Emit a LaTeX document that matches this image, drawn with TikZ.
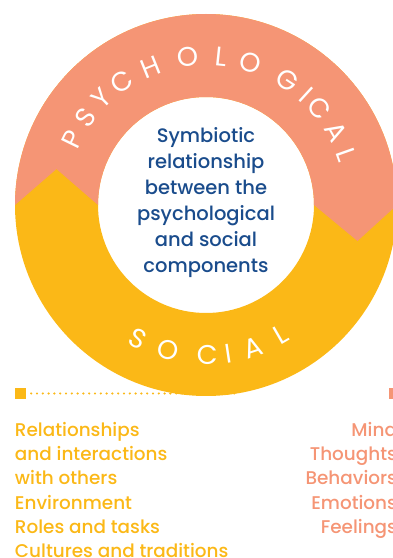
\documentclass[tikz,border=0pt]{standalone}
\usepackage{fontspec}
\setmainfont{Poppins}
\newfontfamily\medfont{Poppins Medium}
\usetikzlibrary{positioning}
\definecolor{psycho}{HTML}{F59575}
\definecolor{social}{HTML}{FBB817}
\definecolor{deepblue}{HTML}{1A4C8C}
\tikzset{%
  ring letter/.style={
    text=white,
    inner sep=0pt,
    font=\fontsize{27}{27}\selectfont
  },
  list text/.style={
    inner sep=0pt,
    font=\medfont\fontsize{18.4}{24.2}\selectfont
  },
  marker/.style={
    draw=none,
    inner sep=0pt,
    minimum size=11pt
  },
}

\begin{document}
\begin{tikzpicture}[x=1pt,y=1pt]
        \useasboundingbox (0,0) rectangle (392,558);
        \coordinate (hub) at (206,353);

        \node[marker,fill=social] (socmark) at (20.5,164.5) {};
        \node[marker,fill=psycho] (psymark) at (394.5,164.5) {};
        \coordinate (socend) at (235,164.5);
        \draw[social,line width=2.4pt,line cap=round,dash pattern=on 0pt off 5.8pt,dash phase=0.8pt] (socmark.east) -- (socend);

        \fill[social,even odd rule] (hub) circle[radius=191] (hub) circle[radius=108];
        \fill[psycho] ([xshift=-191pt]hub) arc[start angle=180,end angle=0,radius=191]
            -- ++(-39.5,-36) -- ([xshift=108pt]hub) arc[start angle=0,end angle=180,radius=108]
            -- ++(-41.5,36) -- cycle;

        \node[font=\medfont\fontsize{19.5}{26}\selectfont,text=deepblue,align=center] (core) at (206,355)
            {Symbiotic\\relationship\\between the\\psychological\\and social\\components};

        \foreach \a/\l [count=\i] in {154/P,144/S,134.5/Y,124.5/C,112/H,97/O,84/L,72.5/O,57/G,47.5/I,40.5/C,29.5/A,19.5/L}
            \node[ring letter,rotate=\a-90] (psy\i) at ([shift={(\a:149)}]hub) {\l};
        \foreach \a/\l [count=\i] in {243/S,255.5/O,270.5/C,278.5/I,288.5/A,300/L}
            \node[ring letter,rotate=\a+90] (soc\i) at ([shift={(\a:150)}]hub) {\l};

        \node[list text,text=social,align=left,below right=23pt and 0pt of socmark.south west] (soclist)
            {Relationships\\and interactions\\with others\\Environment\\Roles and tasks\\Cultures and traditions};
        \node[list text,text=psycho,align=right,below left=23pt and 3pt of psymark.south east] (psylist)
            {Mind\\Thoughts\\Behaviors\\Emotions\\Feelings};
    \end{tikzpicture}
\end{document}
